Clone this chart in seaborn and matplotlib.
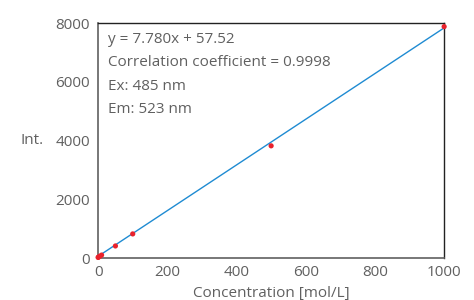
import matplotlib
matplotlib.use("Agg")
import matplotlib.pyplot as plt
import seaborn as sns
from matplotlib.ticker import MultipleLocator

# calibration data
conc = [0, 1, 5, 10, 50, 100, 500, 1000]
intensity = [20, 30, 60, 100, 410, 820, 3820, 7880]

# fitted line endpoints from y = 7.780x + 57.52
fit_x = [0, 1000]
fit_y = [57.52, 7837.52]

notes = ["y = 7.780x + 57.52", "Correlation coefficient = 0.9998",
         "Ex: 485 nm", "Em: 523 nm"]

sns.set_style("white")
plt.rcParams['font.family'] = ['Open Sans', 'DejaVu Sans']
grey = "#606060"
fs = 11

fig = plt.figure(figsize=(4.74, 3.0), dpi=100)
ax = fig.add_axes([0.207, 0.14, 0.730, 0.783])

sns.lineplot(x=fit_x, y=fit_y, ax=ax, color="#1f8bd2", lw=1.0)
sns.scatterplot(x=conc, y=intensity, ax=ax, color="#e8222c", s=14,
                edgecolor="none", clip_on=False, zorder=5)

ax.set_xlim(0, 1000)
ax.set_ylim(0, 8000)
ax.xaxis.set_major_locator(MultipleLocator(200))
ax.xaxis.set_minor_locator(MultipleLocator(100))
ax.yaxis.set_major_locator(MultipleLocator(2000))
ax.yaxis.set_minor_locator(MultipleLocator(1000))

ax.tick_params(axis="x", which="both", direction="in", length=4, width=1,
               color=grey, labelsize=fs, labelcolor=grey, pad=5)
ax.tick_params(axis="y", which="both", direction="out", length=4, width=1,
               color=grey, labelsize=fs, labelcolor=grey, pad=2)

for side in ["left", "bottom"]:
    ax.spines[side].set_color(grey)
    ax.spines[side].set_linewidth(1.2)
for side in ["top", "right"]:
    ax.spines[side].set_color("#222222")
    ax.spines[side].set_linewidth(1.0)

ax.set_xlabel("Concentration [mol/L]", fontsize=fs, color=grey, labelpad=4)
ax.set_ylabel("")
fig.text(0.044, 0.533, "Int.", fontsize=fs, color=grey, va="center")

for i, t in enumerate(notes):
    ax.text(0.028, 0.93 - i * 0.099, t, transform=ax.transAxes,
            fontsize=fs, color=grey, va="center")

fig.savefig("out.png", dpi=100)
